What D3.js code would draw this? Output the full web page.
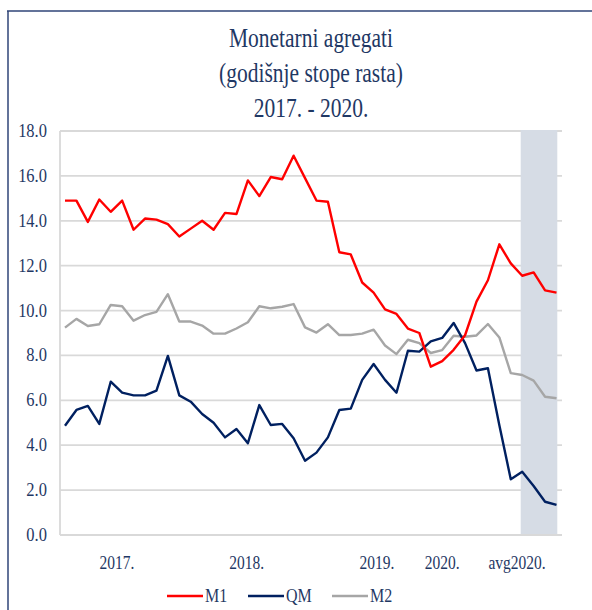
<!DOCTYPE html>
<html>
<head>
<meta charset="utf-8">
<script src="https://cdn.jsdelivr.net/npm/d3@7"></script>
<style>
  html, body { margin: 0; padding: 0; background: #fff; }
  svg { display: block; }
  text { font-family: "Liberation Serif", "Times New Roman", serif; fill: #1F3864; }
</style>
</head>
<body>
<svg id="chart" width="592" height="610"></svg>
<script>
// ---- data (monthly, Jan 2017 – Aug 2020) ----
const months = d3.range(44); // month index 0 = Jan 2017 ... 43 = Aug 2020
const m1 = [14.9, 14.9, 13.95, 14.95, 14.4, 14.9, 13.6, 14.1, 14.05, 13.85, 13.3, 13.65,
            14.0, 13.6, 14.35, 14.3, 15.8, 15.1, 15.95, 15.85, 16.9, 15.9, 14.9, 14.85,
            12.6, 12.5, 11.25, 10.8, 10.05, 9.85, 9.2, 9.0, 7.5, 7.75, 8.25, 8.9,
            10.4, 11.35, 12.95, 12.1, 11.55, 11.7, 10.9, 10.8];
const qm = [4.87, 5.57, 5.75, 4.95, 6.83, 6.34, 6.22, 6.22, 6.43, 7.98, 6.22, 5.94,
            5.39, 5.0, 4.35, 4.72, 4.09, 5.79, 4.9, 4.95, 4.31, 3.31, 3.67, 4.35,
            5.57, 5.63, 6.91, 7.62, 6.91, 6.34, 8.21, 8.17, 8.63, 8.78, 9.45, 8.55,
            7.33, 7.43, 4.89, 2.48, 2.82, 2.18, 1.48, 1.34];
const m2 = [9.24, 9.63, 9.31, 9.39, 10.25, 10.19, 9.55, 9.8, 9.94, 10.73, 9.51, 9.51,
            9.33, 8.97, 8.97, 9.2, 9.48, 10.19, 10.1, 10.17, 10.29, 9.25, 9.02, 9.39,
            8.91, 8.91, 8.97, 9.15, 8.44, 8.06, 8.7, 8.55, 8.11, 8.24, 8.88, 8.83,
            8.89, 9.4, 8.8, 7.21, 7.13, 6.88, 6.16, 6.09];
const seriesNames = ["M1", "QM", "M2"];
const seriesColors = ["#FF0000", "#002060", "#A6A6A6"];
const yTicks = [0, 2, 4, 6, 8, 10, 12, 14, 16, 18];
const xTickLabels = ["2017.", "2018.", "2019.", "2020.", "avg2020."];
const xTickPos = [4.55, 15.9, 27.3, 33, 39.55];
const bandFrom = 40, bandTo = 43;
const titleLines = ["Monetarni agregati", "(godišnje stope rasta)", "2017. - 2020."];

// ---- layout ----
const svg = d3.select("#chart");
const x = d3.scaleLinear().domain([0, 43]).range([65, 556.5]);
const y = d3.scaleLinear().domain([0, 18]).range([535, 131]);
const plotL = 60, plotR = 562;
const stretch = 1.2;

// frame
svg.append("line").attr("x1", 7).attr("x2", 592).attr("y1", 11).attr("y2", 11)
  .attr("stroke", "#2F4577").attr("stroke-width", 1.5);
svg.append("line").attr("x1", 8).attr("x2", 8).attr("y1", 11).attr("y2", 610)
  .attr("stroke", "#2F4577").attr("stroke-width", 1.5);

// title
svg.append("g").selectAll("text").data(titleLines).join("text")
  .attr("transform", (d, i) => `translate(311,${47 + i * 35}) scale(1,1.27)`)
  .attr("text-anchor", "middle")
  .style("font-size", "21.5px")
  .text(d => d);

// gridlines
svg.append("g").selectAll("line").data(yTicks).join("line")
  .attr("x1", plotL).attr("x2", plotR)
  .attr("y1", d => y(d)).attr("y2", d => y(d))
  .attr("stroke", "#D9D9D9").attr("stroke-width", 1.8);

// shaded band
svg.append("rect")
  .attr("x", x(bandFrom) - 1.5).attr("width", x(bandTo) - x(bandFrom) + 2.3)
  .attr("y", y(18) - 1).attr("height", y(0) - y(18))
  .attr("fill", "#D6DCE5");

// axes lines
svg.append("line").attr("x1", plotL).attr("x2", plotL).attr("y1", y(18)).attr("y2", y(0))
  .attr("stroke", "#D9D9D9").attr("stroke-width", 1.8);
svg.append("line").attr("x1", plotL).attr("x2", plotR).attr("y1", y(0)).attr("y2", y(0))
  .attr("stroke", "#D9D9D9").attr("stroke-width", 1.8);

// y tick labels
svg.append("g").selectAll("text").data(yTicks).join("text")
  .attr("transform", d => `translate(47,${y(d) + 6}) scale(1,${stretch})`)
  .attr("text-anchor", "end")
  .style("font-size", "16.5px")
  .text(d => d3.format(".1f")(d));

// x tick labels
svg.append("g").selectAll("text").data(xTickLabels).join("text")
  .attr("transform", (d, i) => `translate(${x(xTickPos[i])},569) scale(1,${stretch})`)
  .attr("text-anchor", "middle")
  .style("font-size", "15.5px")
  .text(d => d);

// lines
const seriesData = [m1, qm, m2];
const line = d3.line().x((d, i) => x(months[i])).y(d => y(d));
svg.append("g").selectAll("path").data([2, 1, 0]).join("path")
  .attr("d", k => line(seriesData[k]))
  .attr("fill", "none")
  .attr("stroke", k => seriesColors[k])
  .attr("stroke-width", 2.4)
  .attr("stroke-linejoin", "round");

// legend
const legX = [167, 248, 332];
const lg = svg.append("g").selectAll("g").data(seriesNames).join("g")
  .attr("transform", (d, i) => `translate(${legX[i]},596)`);
lg.append("line").attr("x1", 0).attr("x2", 36).attr("y1", 0).attr("y2", 0)
  .attr("stroke", (d, i) => seriesColors[i]).attr("stroke-width", 2.4);
lg.append("text")
  .attr("transform", `translate(38,6) scale(1,${stretch})`)
  .style("font-size", "16px")
  .text(d => d);
</script>
</body>
</html>
